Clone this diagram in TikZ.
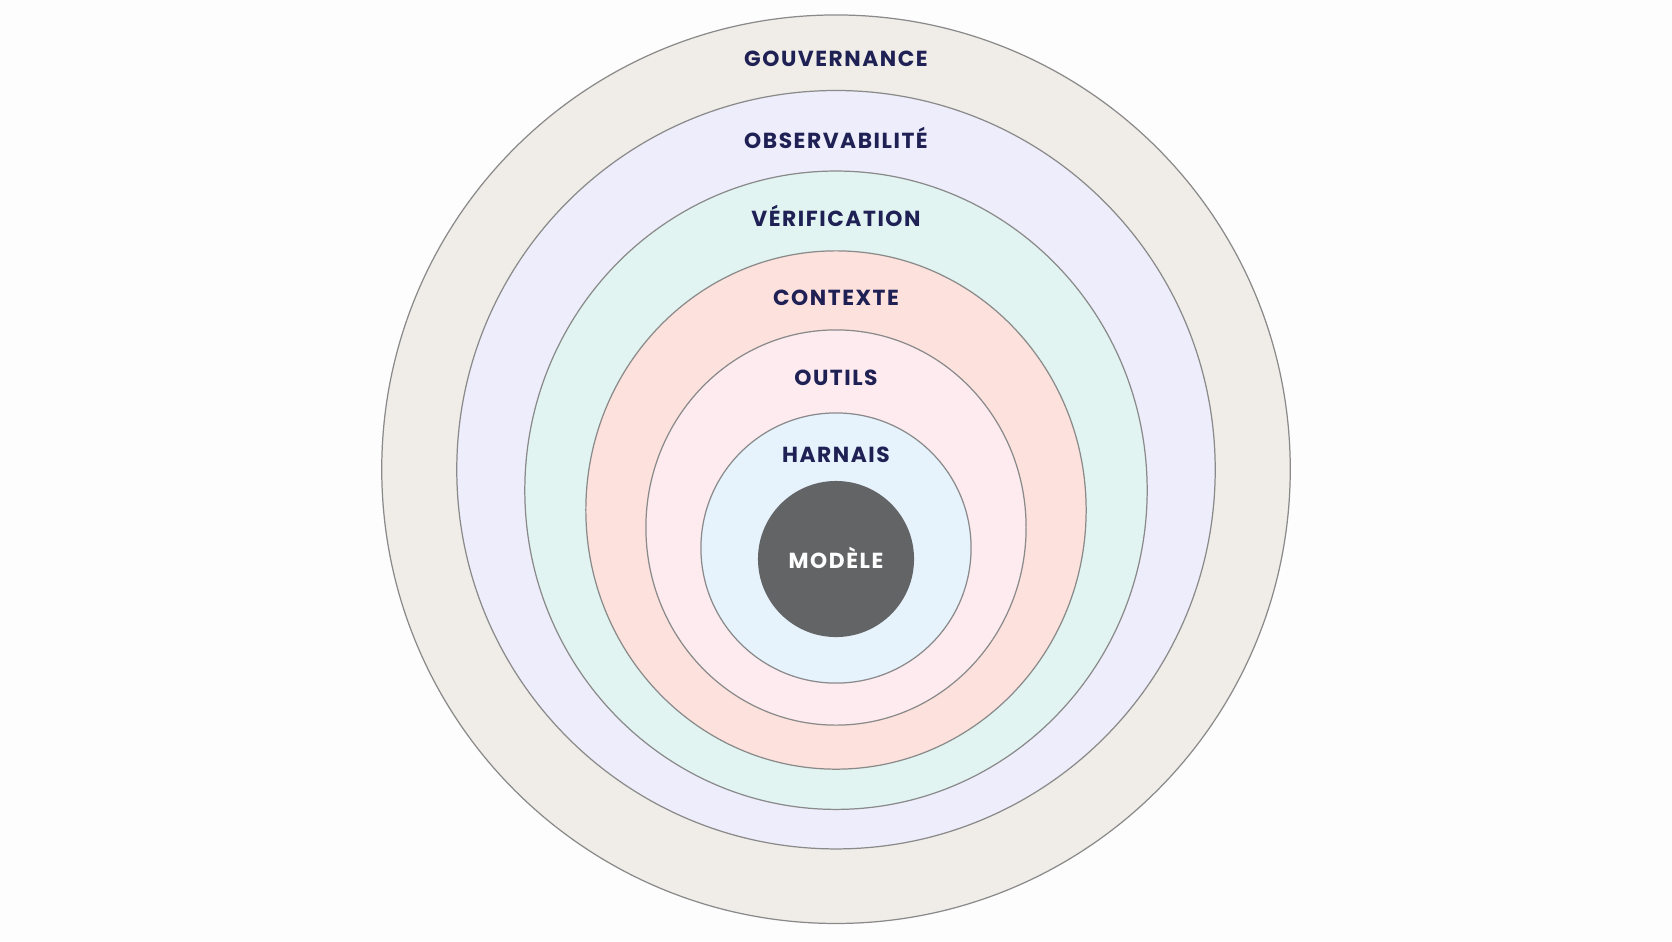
\documentclass[tikz,border=0pt]{standalone}
\usepackage{fontspec}
\setmainfont{Poppins}
\newfontfamily\ringfont{Poppins}[LetterSpace=7]
\definecolor{pagebg}{HTML}{FDFDFD}
\definecolor{inkblue}{HTML}{1F2155}
\definecolor{ringline}{HTML}{8A8A8A}
\definecolor{gouvfill}{HTML}{F0EDE8}
\definecolor{obsfill}{HTML}{EEEDFB}
\definecolor{veriffill}{HTML}{E1F4F1}
\definecolor{ctxfill}{HTML}{FDE1DC}
\definecolor{outilsfill}{HTML}{FDEBEF}
\definecolor{harnfill}{HTML}{E6F2FC}
\definecolor{modelfill}{HTML}{636466}
\begin{document}
\begin{tikzpicture}[x=0.01cm, y=-0.01cm,
  ring/.style={draw=ringline, line width=0.35pt},
  layer/.style={anchor=base, inner sep=0pt, text=inkblue, font=\ringfont\bfseries\fontsize{6.2}{7}\selectfont}]
\useasboundingbox (0,0) rectangle (1672,941);
\fill[pagebg] (0,0) rectangle (1672,941);

% rings, outside in
\draw[ring, fill=gouvfill] (836,469.2) circle (4.54cm);
\draw[ring, fill=obsfill] (836,469.7) circle (3.79cm);
\draw[ring, fill=veriffill] (836,490.2) ellipse (3.11cm and 3.19cm);
\draw[ring, fill=ctxfill] (836,510) ellipse (2.50cm and 2.59cm);
\draw[ring, fill=outilsfill] (836,527.5) ellipse (1.90cm and 1.975cm);
\draw[ring, fill=harnfill] (836,548) circle (1.35cm);
\fill[modelfill] (836,559) circle (0.78cm);

% labels
\node[layer] (gouv) at (836,66.7) {GOUVERNANCE};
\node[layer] (obs) at (836,148.3) {OBSERVABILITÉ};
\node[layer] (verif) at (836,226.7) {VÉRIFICATION};
\node[layer] (ctx) at (836,305) {CONTEXTE};
\node[layer] (outils) at (836,385) {OUTILS};
\node[layer] (harn) at (836,462.8) {HARNAIS};
\node[layer, text=white] (modele) at (836,568.7) {MODÈLE};
\end{tikzpicture}
\end{document}
